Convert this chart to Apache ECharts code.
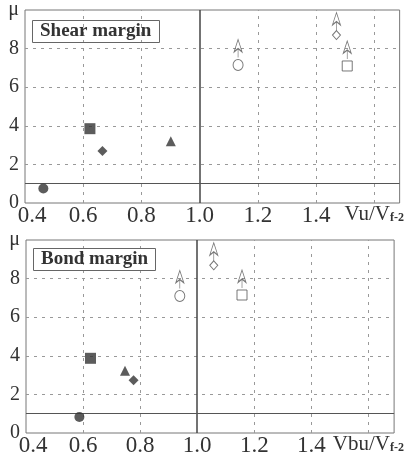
<!DOCTYPE html>
<html><head><meta charset="utf-8">
<script src="https://cdn.jsdelivr.net/npm/echarts@6/dist/echarts.min.js"></script>
<style>html,body{margin:0;padding:0;background:#fff}#c{width:407px;height:457px}</style>
</head><body><div id="c"></div>
<script>
// ---- data ----
const xTickLabels = ['0.4', '0.6', '0.8', '1.0', '1.2', '1.4'];
const yTickLabels = {0: '0', 1: '1', 2: '2', 4: '4', 6: '6', 8: '8', 10: 'μ'};
const gridXValues = [0.6, 0.8, 1.2, 1.4, 1.6];
const gridYValues = [2, 4, 6, 8];
const refX = 1.0;
const refY = 1;

const shearTitle = 'Shear margin';
const shearAxisName = ['Vu/V', 'f-2'];
const shearFilledShapes = ['circle', 'rect', 'diamond', 'triangle'];
const shearFilledX = [0.463, 0.623, 0.666, 0.901];
const shearFilledY = [0.75, 3.85, 2.7, 3.2];
const shearOpenShapes = ['circle', 'diamond', 'rect'];
const shearOpenX = [1.132, 1.47, 1.507];
const shearOpenY = [7.15, 8.7, 7.1];

const bondTitle = 'Bond margin';
const bondAxisName = ['Vbu/V', 'f-2'];
const bondFilledShapes = ['circle', 'rect', 'triangle', 'diamond'];
const bondFilledX = [0.587, 0.626, 0.747, 0.777];
const bondFilledY = [0.83, 3.87, 3.22, 2.73];
const bondOpenShapes = ['circle', 'diamond', 'rect'];
const bondOpenX = [0.939, 1.058, 1.157];
const bondOpenY = [7.1, 8.69, 7.15];

// ---- styles ----
const SERIF = '"Liberation Serif", "DejaVu Serif", serif';
const TXT = '#333';
const filledSize = {circle: 10, rect: 11, diamond: 10, triangle: 10};
const openSize = {circle: [10, 11], rect: 10, diamond: [8, 9]};
const arrowOffset = {circle: -16.5, diamond: -13.5, rect: -16};
const ARROW = 'path://M4 0 L0.5 13 L4 9.5 L7.5 13 Z M4 9.5 L4 19';

const chart = echarts.init(document.getElementById('c'), null, {renderer: 'canvas'});

function xAxisFor(gi, xmax, name) {
  return {
    type: 'value', gridIndex: gi, min: 0.4, max: xmax, interval: 0.2,
    axisLine: {show: false}, axisTick: {show: false}, splitLine: {show: false},
    axisLabel: {
      margin: 1, color: TXT, fontFamily: SERIF, fontSize: 23, showMaxLabel: true, showMinLabel: true, hideOverlap: false,
      formatter: function (v) {
        const r = Math.round(v * 10) / 10;
        if (Math.abs(r - v) > 1e-6) return '';
        const s = r.toFixed(1);
        if (s === '1.6') return '{n|' + name[0] + '}{s|' + name[1] + '}';
        if (s === '0.4') return '{f|0.4}';
        return xTickLabels.indexOf(s) >= 0 ? s : '';
      },
      rich: {
        f: {fontFamily: SERIF, fontSize: 23, color: TXT, padding: [0, 0, 0, 14]},
        n: {fontFamily: SERIF, fontSize: 21, color: TXT, padding: [0, 0, 6, 0]},
        s: {fontFamily: SERIF, fontSize: 12, fontWeight: 'bold', color: TXT}
      }
    }
  };
}
function yAxisFor(gi) {
  return {
    type: 'value', gridIndex: gi, min: 0, max: 10, interval: 1,
    axisLine: {show: false}, axisTick: {show: false}, splitLine: {show: false},
    axisLabel: {
      margin: 6, color: TXT, fontFamily: SERIF, fontSize: 20, showMaxLabel: true, showMinLabel: true, hideOverlap: false,
      formatter: function (v) { const r = Math.round(v); return yTickLabels[r] !== undefined ? yTickLabels[r] : ''; }
    }
  };
}
function seriesFor(gi, fShapes, fX, fY, oShapes, oX, oY) {
  const lines = [];
  gridXValues.forEach(v => lines.push({xAxis: v, lineStyle: {type: [3, 5], color: '#999', width: 1}}));
  gridYValues.forEach(v => lines.push({yAxis: v, lineStyle: {type: [3, 5], color: '#999', width: 1}}));
  lines.push({xAxis: refX, lineStyle: {type: 'solid', color: '#444', width: 1.5}});
  lines.push({yAxis: refY, lineStyle: {type: 'solid', color: '#555', width: 1}});
  return [
    {
      type: 'scatter', xAxisIndex: gi, yAxisIndex: gi, silent: true,
      data: fX.map((x, i) => ({value: [x, fY[i]], symbol: fShapes[i], symbolSize: filledSize[fShapes[i]]})),
      itemStyle: {color: '#333'},
      markLine: {silent: true, symbol: 'none', label: {show: false}, animation: false, data: lines},
      z: 5
    },
    {
      type: 'scatter', xAxisIndex: gi, yAxisIndex: gi, silent: true,
      data: oX.map((x, i) => ({value: [x, oY[i]], symbol: oShapes[i], symbolSize: openSize[oShapes[i]]})),
      itemStyle: {color: '#fff', borderColor: '#555', borderWidth: 1}, z: 5
    },
    {
      type: 'scatter', xAxisIndex: gi, yAxisIndex: gi, silent: true,
      data: oX.map((x, i) => ({value: [x, oY[i]], symbolOffset: [0, arrowOffset[oShapes[i]]]})),
      symbol: ARROW, symbolSize: [8, 18], symbolKeepAspect: false,
      itemStyle: {color: 'rgba(255,255,255,0)', borderColor: '#555', borderWidth: 1}, z: 5
    }
  ];
}

chart.setOption({
  animation: false,
  backgroundColor: '#fff',
  title: [
    {text: shearTitle, left: 32, top: 20, borderColor: '#666', borderWidth: 1, padding: [2, 8, 2, 8],
     textStyle: {fontFamily: SERIF, fontWeight: 'bold', fontSize: 19, color: TXT}},
    {text: bondTitle, left: 33, top: 248, borderColor: '#666', borderWidth: 1, padding: [2, 8, 2, 8],
     textStyle: {fontFamily: SERIF, fontWeight: 'bold', fontSize: 19, color: TXT}}
  ],
  grid: [
    {left: 25, top: 10, width: 375, height: 193, show: true, borderColor: '#777', borderWidth: 1},
    {left: 26, top: 240, width: 376, height: 193, show: true, borderColor: '#777', borderWidth: 1}
  ],
  xAxis: [xAxisFor(0, 1.687, shearAxisName), xAxisFor(1, 1.69, bondAxisName)],
  yAxis: [yAxisFor(0), yAxisFor(1)],
  series: [].concat(
    seriesFor(0, shearFilledShapes, shearFilledX, shearFilledY, shearOpenShapes, shearOpenX, shearOpenY),
    seriesFor(1, bondFilledShapes, bondFilledX, bondFilledY, bondOpenShapes, bondOpenX, bondOpenY)
  )
});
</script>
</body></html>
